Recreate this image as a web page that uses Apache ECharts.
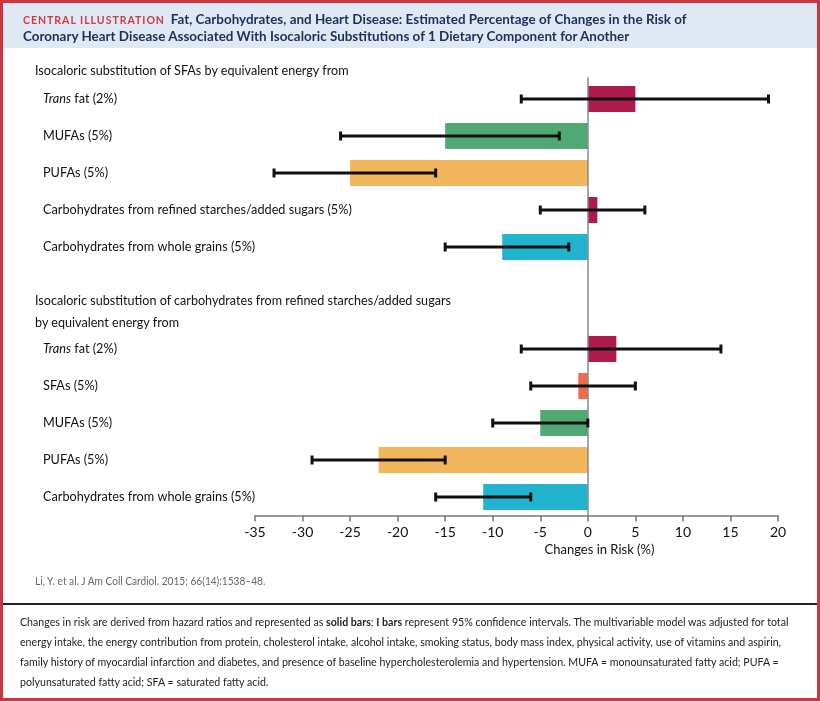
<!DOCTYPE html>
<html><head><meta charset="utf-8">
<script src="https://cdn.jsdelivr.net/npm/echarts@6/dist/echarts.min.js"></script>
<style>
html,body{margin:0;padding:0;width:820px;height:701px;overflow:hidden;background:#fff;}
#frame{position:absolute;left:0;top:0;width:820px;height:701px;box-sizing:border-box;border:3px solid #cc343f;}
#band{position:absolute;left:3px;top:3px;width:814px;height:45px;background:#dfe9f5;}
#rule{position:absolute;left:3px;top:603px;width:814px;height:2px;background:#222;}
#chart{position:absolute;left:0;top:0;width:820px;height:701px;}
.t{position:absolute;white-space:nowrap;font-family:'Lato',sans-serif;transform-origin:0 0;}
#title{left:23px;top:11px;font-size:14px;line-height:16px;font-weight:bold;color:#1c2f5c;transform:scaleX(0.96);}
#title .ci{color:#d33a40;font-size:11px;letter-spacing:1px;margin-right:6px;}
.hdr{font-size:14px;line-height:22px;color:#111;transform:scaleX(0.9);}
#cite{left:35px;top:574px;font-size:11.5px;color:#666;transform:scaleX(0.88);}
#note{left:20px;top:612px;font-size:12px;line-height:20px;color:#222;transform:scaleX(0.885);}
</style></head>
<body>
<div id="frame"></div>
<div id="band"></div>
<div id="rule"></div>
<div id="chart"></div>
<div class="t" id="title"><span class="ci">CENTRAL ILLUSTRATION</span>Fat, Carbohydrates, and Heart Disease: Estimated Percentage of Changes in the Risk of<br>Coronary Heart Disease Associated With Isocaloric Substitutions of 1 Dietary Component for Another</div>
<div class="t hdr" style="left:35px;top:59px;">Isocaloric substitution of SFAs by equivalent energy from</div>
<div class="t hdr" style="left:35px;top:289px;">Isocaloric substitution of carbohydrates from refined starches/added sugars<br>by equivalent energy from</div>
<div class="t" id="cite">Li, Y. et al. J Am Coll Cardiol. 2015; 66(14):1538–48.</div>
<div class="t" id="note">Changes in risk are derived from hazard ratios and represented as <b>solid bars</b>; <b>I bars</b> represent 95% confidence intervals. The multivariable model was adjusted for total<br>energy intake, the energy contribution from protein, cholesterol intake, alcohol intake, smoking status, body mass index, physical activity, use of vitamins and aspirin,<br>family history of myocardial infarction and diabetes, and presence of baseline hypercholesterolemia and hypertension. MUFA = monounsaturated fatty acid; PUFA =<br>polyunsaturated fatty acid; SFA = saturated fatty acid.</div>
<script>
// ---- data ----
const sec1Labels = ['Trans fat (2%)', 'MUFAs (5%)', 'PUFAs (5%)', 'Carbohydrates from refined starches/added sugars (5%)', 'Carbohydrates from whole grains (5%)'];
const sec1Values = [5, -15, -25, 1, -9];
const sec1Low = [-7, -26, -33, -5, -15];
const sec1High = [19, -3, -16, 6, -2];

const sec2Labels = ['Trans fat (2%)', 'SFAs (5%)', 'MUFAs (5%)', 'PUFAs (5%)', 'Carbohydrates from whole grains (5%)'];
const sec2Values = [3, -1, -5, -22, -11];
const sec2Low = [-7, -6, -10, -29, -16];
const sec2High = [14, 5, 0, -15, -6];

const xTicks = [-35, -30, -25, -20, -15, -10, -5, 0, 5, 10, 15, 20];
const xAxisName = 'Changes in Risk (%)';

// ---- styles ----
const C_TRANS = '#ad1a4b', C_MUFA = '#50a873', C_PUFA = '#f2b65c', C_WG = '#22b4cf', C_SFA = '#ee6b4d';
const sec1Colors = [C_TRANS, C_MUFA, C_PUFA, C_TRANS, C_WG];
const sec2Colors = [C_TRANS, C_SFA, C_MUFA, C_PUFA, C_WG];
const FONT = "'Lato', sans-serif";

const xMin = xTicks[0], xMax = xTicks[xTicks.length - 1], xStep = xTicks[1] - xTicks[0];

function labelFmt(v) {
  return v.indexOf('Trans ') === 0 ? '{i|Trans}' + v.slice(5) : v;
}
function catAxis(grid, labels) {
  return {
    gridIndex: grid, type: 'category', data: labels, inverse: true,
    axisLine: { show: false, onZero: false }, axisTick: { show: false },
    axisLabel: {
      align: 'left', margin: 212, fontSize: 12.7, color: '#111', fontFamily: FONT,
      formatter: labelFmt,
      rich: { i: { fontStyle: 'italic', fontSize: 12.7, color: '#111', fontFamily: FONT } }
    }
  };
}
function barSeries(axisIdx, values, colors) {
  return {
    type: 'bar', xAxisIndex: axisIdx, yAxisIndex: axisIdx, barWidth: 26, z: 2,
    data: values.map((v, i) => ({ value: v, itemStyle: { color: colors[i] } }))
  };
}
function errSeries(axisIdx, low, high) {
  return {
    type: 'custom', xAxisIndex: axisIdx, yAxisIndex: axisIdx, z: 5,
    encode: { x: [0, 1], y: 2 },
    data: low.map((l, i) => [l, high[i], i]),
    renderItem: function (params, api) {
      const idx = api.value(2);
      const p1 = api.coord([api.value(0), idx]);
      const p2 = api.coord([api.value(1), idx]);
      const cap = 4.5;
      const st = { stroke: '#111', lineWidth: 3 };
      return {
        type: 'group',
        children: [
          { type: 'line', shape: { x1: p1[0], y1: p1[1], x2: p2[0], y2: p2[1] }, style: st },
          { type: 'line', shape: { x1: p1[0], y1: p1[1] - cap, x2: p1[0], y2: p1[1] + cap }, style: st },
          { type: 'line', shape: { x1: p2[0], y1: p2[1] - cap, x2: p2[0], y2: p2[1] + cap }, style: st }
        ]
      };
    }
  };
}

const chart = echarts.init(document.getElementById('chart'), null, { renderer: 'canvas' });
chart.setOption({
  animation: false,
  backgroundColor: 'transparent',
  grid: [
    { left: 255, right: 42, top: 80.5, height: 185 },
    { left: 255, right: 42, top: 330.5, height: 185 },
    { left: 255, right: 42, top: 78, height: 437.5 }
  ],
  xAxis: [
    { gridIndex: 0, type: 'value', min: xMin, max: xMax, interval: xStep, show: false },
    {
      gridIndex: 1, type: 'value', min: xMin, max: xMax, interval: xStep,
      splitLine: { show: false },
      axisLine: { show: true, onZero: false, lineStyle: { color: '#777', width: 1.5 } },
      axisTick: { show: true, length: 6, lineStyle: { color: '#777', width: 1.5 } },
      axisLabel: { margin: 10, fontSize: 14, color: '#111', fontFamily: FONT },
      name: xAxisName, nameLocation: 'middle', nameGap: 28,
      nameTextStyle: { fontSize: 13, color: '#111', fontFamily: FONT, padding: [0, 0, 0, 166] }
    },
    { gridIndex: 2, type: 'value', min: xMin, max: xMax, interval: xStep, show: false }
  ],
  yAxis: [
    catAxis(0, sec1Labels),
    catAxis(1, sec2Labels),
    {
      gridIndex: 2, type: 'category', data: [''],
      axisLine: { show: true, onZero: true, lineStyle: { color: '#888', width: 1.5 } },
      axisTick: { show: false }, axisLabel: { show: false }, z: 3
    }
  ],
  series: [
    barSeries(0, sec1Values, sec1Colors),
    barSeries(1, sec2Values, sec2Colors),
    errSeries(0, sec1Low, sec1High),
    errSeries(1, sec2Low, sec2High)
  ]
});
</script>
</body></html>
